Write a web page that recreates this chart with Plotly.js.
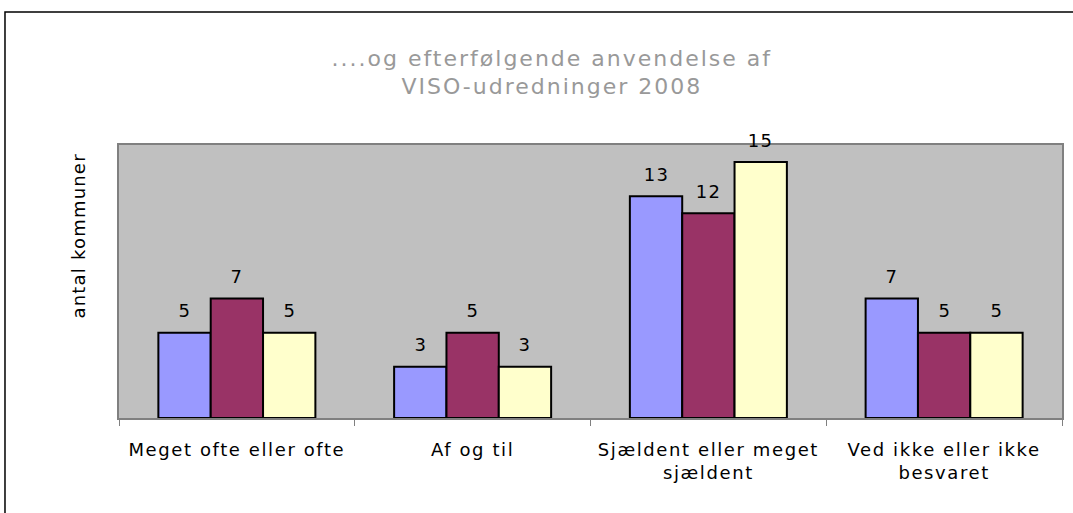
<!DOCTYPE html>
<html>
<head>
<meta charset="utf-8">
<script src="https://cdn.plot.ly/plotly-3.0.1.min.js"></script>
<style>
  body { margin: 0; background: #fff; }
  #grafica { width: 1073px; height: 513px; }
  #grafica .gtitle { letter-spacing: 2px; }
  #grafica .xtick text { letter-spacing: 1.6px; }
  #grafica .annotation-text { letter-spacing: 1.2px; }
</style>
</head>
<body>
<div id="grafica"></div>
<script>
var kategorier = ["Meget ofte eller ofte", "Af og til", "Sjældent eller meget<br>sjældent", "Ved ikke eller ikke<br>besvaret"];
var serie1 = [5, 3, 13, 7];
var serie2 = [7, 5, 12, 5];
var serie3 = [5, 3, 15, 5];
var farver = ["#9999FF", "#993366", "#FFFFCC"];

var skrift = 'DejaVu Sans, Verdana, sans-serif';
var serier = [serie1, serie2, serie3];

var data = [];
var etiketter = [];
var sojleBredde = 52.3; // px, ca. bredden af en søjle
for (var s = 0; s < serier.length; s++) {
  data.push({
    type: 'bar',
    x: kategorier,
    y: serier[s],
    marker: {color: farver[s], line: {color: '#000', width: 2}},
    hoverinfo: 'none'
  });
  // værdier over søjlerne
  for (var k = 0; k < kategorier.length; k++) {
    etiketter.push({
      x: kategorier[k],
      y: serier[s][k],
      xref: 'x', yref: 'y',
      xshift: (s - 1) * sojleBredde,
      yshift: 22,
      yanchor: 'middle',
      showarrow: false,
      text: String(serier[s][k]),
      font: {family: skrift, size: 18, color: '#000'}
    });
  }
}

etiketter.push({
  text: 'antal kommuner',
  textangle: -90,
  xref: 'paper', yref: 'paper',
  x: -0.0435, y: 0.67,
  xanchor: 'center', yanchor: 'middle',
  showarrow: false,
  font: {family: skrift, size: 18, color: '#000'}
});

var layout = {
  width: 1073,
  height: 513,
  margin: {l: 119, r: 11, t: 145, b: 95},
  paper_bgcolor: '#fff',
  plot_bgcolor: '#C0C0C0',
  showlegend: false,
  barmode: 'group',
  bargap: 0.334,
  bargroupgap: 0,
  font: {family: skrift, color: '#000'},
  title: {
    text: '....og efterfølgende anvendelse af<br>VISO-udredninger 2008',
    font: {family: skrift, size: 22, color: '#999999'},
    x: 0.459, xref: 'paper', xanchor: 'center', y: 0.872, yanchor: 'middle'
  },
  xaxis: {
    type: 'category',
    tickson: 'boundaries',
    ticks: 'outside',
    ticklen: 6,
    tickcolor: '#808080',
    tickfont: {family: skrift, size: 18, color: '#000'},
    ticklabelstandoff: 14,
    showline: true,
    linecolor: '#808080',
    linewidth: 2,
    mirror: true,
    showgrid: false,
    fixedrange: true
  },
  yaxis: {
    range: [0, 16],
    showticklabels: false,
    showgrid: false,
    zeroline: false,
    showline: true,
    linecolor: '#808080',
    linewidth: 2,
    mirror: true,
    ticks: '',
    fixedrange: true
  },
  annotations: etiketter,
  shapes: [{
    type: 'path',
    xref: 'paper', yref: 'paper',
    path: 'M -0.1209 -0.4 L -0.1209 1.487 L 1.2 1.487',
    line: {color: '#000', width: 1.5}
  }]
};

Plotly.newPlot('grafica', data, layout, {displayModeBar: false, staticPlot: true});
</script>
</body>
</html>
